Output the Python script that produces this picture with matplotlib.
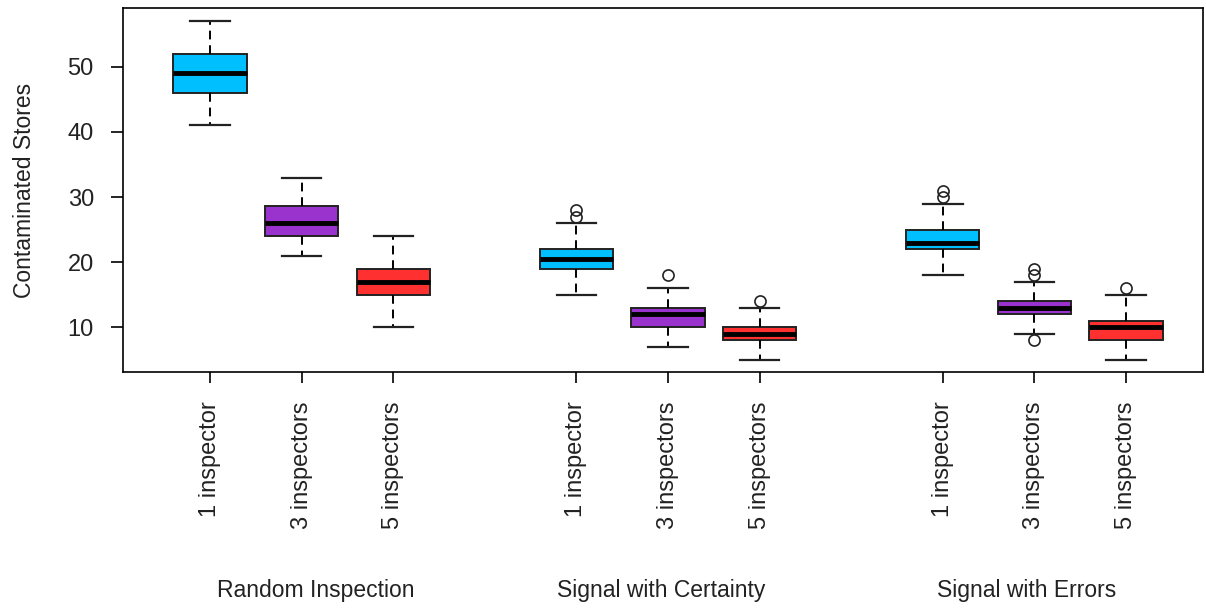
import numpy as np
import matplotlib
matplotlib.use('Agg')
import matplotlib.pyplot as plt
import matplotlib.transforms as mtransforms

plt.rcParams['font.family'] = ['Liberation Sans', 'DejaVu Sans']

# box positions: three groups of three, with a gap between groups
posiciones = [1, 2, 3, 5, 6, 7, 9, 10, 11]
etiquetas = ['1 inspector', '3 inspectors', '5 inspectors'] * 3
grupos = ['Random Inspection', 'Signal with Certainty', 'Signal with Errors']
centros_grupo = [2.15, 5.92, 9.91]

# summary statistics per box
bigote_inf = [41, 21, 10, 15, 7, 5, 18, 9, 5]
q1 = [46, 24, 15, 19, 10, 8, 22, 12, 8]
mediana = [49, 26, 17, 20.5, 12, 9, 23, 13, 10]
q3 = [52, 28.6, 19, 22, 13, 10, 25, 14, 11]
bigote_sup = [57, 33, 24, 26, 16, 13, 29, 17, 15]
atipicos = [[], [], [], [27, 28], [18], [14], [30, 31], [8, 18, 19], [16]]

colores = ['#00BFFF', '#9A32CD', '#FF3030'] * 3

stats = []
for i in range(len(posiciones)):
    stats.append({'med': mediana[i], 'q1': q1[i], 'q3': q3[i],
                  'whislo': bigote_inf[i], 'whishi': bigote_sup[i],
                  'fliers': atipicos[i]})

fig = plt.figure(figsize=(12.06, 6.09), dpi=100)
ax = fig.add_axes([0.102, 0.389, 0.8955, 0.598])

bp = ax.bxp(stats, positions=posiciones, widths=0.8, patch_artist=True,
            showfliers=True,
            boxprops=dict(edgecolor='#222222', linewidth=1.4),
            medianprops=dict(color='black', linewidth=3.5, solid_capstyle='butt'),
            whiskerprops=dict(color='black', linewidth=1.4, linestyle=(0, (4.5, 3))),
            capprops=dict(color='#222222', linewidth=1.6),
            capwidths=0.43,
            flierprops=dict(marker='o', markersize=8, markerfacecolor='none',
                            markeredgecolor='#222222', markeredgewidth=1.2))
for caja, c in zip(bp['boxes'], colores):
    caja.set_facecolor(c)

ax.set_xlim(0.05, 11.84)
ax.set_ylim(3.08, 59.08)
ax.set_yticks([10, 20, 30, 40, 50])
ax.tick_params(axis='y', labelsize=17, length=9, width=1.2, pad=12, labelcolor='#222222')
ax.set_xticks(posiciones)
ax.set_xticklabels(etiquetas, rotation=90, fontsize=17, va='top', color='#222222')
ax.tick_params(axis='x', length=8, width=1.2, pad=13)
for s in ax.spines.values():
    s.set_linewidth(1.2)

ax.set_ylabel('Contaminated Stores', fontsize=16.5, labelpad=23, color='#222222')

trans = mtransforms.blended_transform_factory(ax.transData, fig.transFigure)
for x, g in zip(centros_grupo, grupos):
    ax.text(x, 1 - 590 / 609, g, transform=trans, ha='center', va='center',
            fontsize=16.5, color='#222222')

fig.savefig('out.png', dpi=100)
